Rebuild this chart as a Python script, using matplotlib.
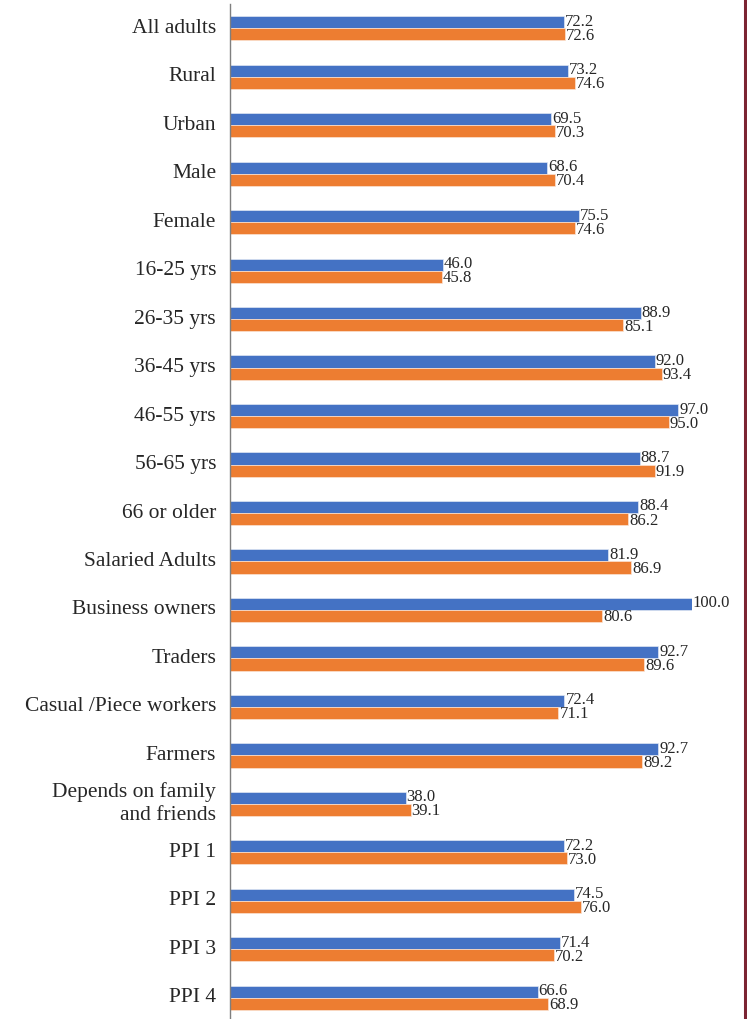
import matplotlib
matplotlib.use("Agg")
import matplotlib.pyplot as plt
from matplotlib.lines import Line2D
import numpy as np

categories = [
    "All adults", "Rural", "Urban", "Male", "Female",
    "16-25 yrs", "26-35 yrs", "36-45 yrs", "46-55 yrs", "56-65 yrs",
    "66 or older", "Salaried Adults", "Business owners", "Traders",
    "Casual /Piece workers", "Farmers", "Depends on family\nand friends",
    "PPI 1", "PPI 2", "PPI 3", "PPI 4",
]
series_blue = [72.2, 73.2, 69.5, 68.6, 75.5, 46.0, 88.9, 92.0, 97.0, 88.7,
               88.4, 81.9, 100.0, 92.7, 72.4, 92.7, 38.0, 72.2, 74.5, 71.4, 66.6]
series_orange = [72.6, 74.6, 70.3, 70.4, 74.6, 45.8, 85.1, 93.4, 95.0, 91.9,
                 86.2, 86.9, 80.6, 89.6, 71.1, 89.2, 39.1, 73.0, 76.0, 70.2, 68.9]

BLUE = "#4472C4"
ORANGE = "#ED7D31"
TEXT = "#262626"
SERIF = ["Liberation Serif", "DejaVu Serif"]

W, H = 747, 1019
fig = plt.figure(figsize=(W / 100, H / 100), dpi=100)

ax_left = 230 / W
ax_right = 692 / W
ax_top = 1 - 4 / H
ax_bottom = 1 - 1022 / H
ax = fig.add_axes([ax_left, ax_bottom, ax_right - ax_left, ax_top - ax_bottom])

y = np.arange(len(categories))
h = 0.25
ax.barh(y - h / 2, series_blue, height=h, color=BLUE, edgecolor="#dfe6f3", linewidth=0.5)
ax.barh(y + h / 2, series_orange, height=h, color=ORANGE, edgecolor="#fbe3d3", linewidth=0.5)

for yi, vb, vo in zip(y, series_blue, series_orange):
    ax.text(vb + 0.2, yi - h / 2 - 0.01, f"{vb:.1f}", va="center", ha="left",
            fontsize=12, color=TEXT, family=SERIF, clip_on=False)
    ax.text(vo + 0.2, yi + h / 2 + 0.03, f"{vo:.1f}", va="center", ha="left",
            fontsize=12, color=TEXT, family=SERIF, clip_on=False)

ax.set_xlim(0, 100)
ax.set_ylim(len(categories) - 0.5, -0.5)
ax.set_yticks(y)
ax.set_yticklabels(categories, family=SERIF, fontsize=15.5, color=TEXT,
                   linespacing=1.3)
for lbl in ax.get_yticklabels():
    lbl.set_verticalalignment("center")
ax.tick_params(axis="y", length=0, pad=10)
ax.set_xticks([])
for side in ["top", "right", "bottom"]:
    ax.spines[side].set_visible(False)
ax.spines["left"].set_color("#7f7f7f")
ax.spines["left"].set_linewidth(1.0)

fig.add_artist(Line2D([744.5 / W, 744.5 / W], [0, 1], color="#7B2433",
                      linewidth=2.2, transform=fig.transFigure))

fig.savefig("out.png", dpi=100, facecolor="white")
